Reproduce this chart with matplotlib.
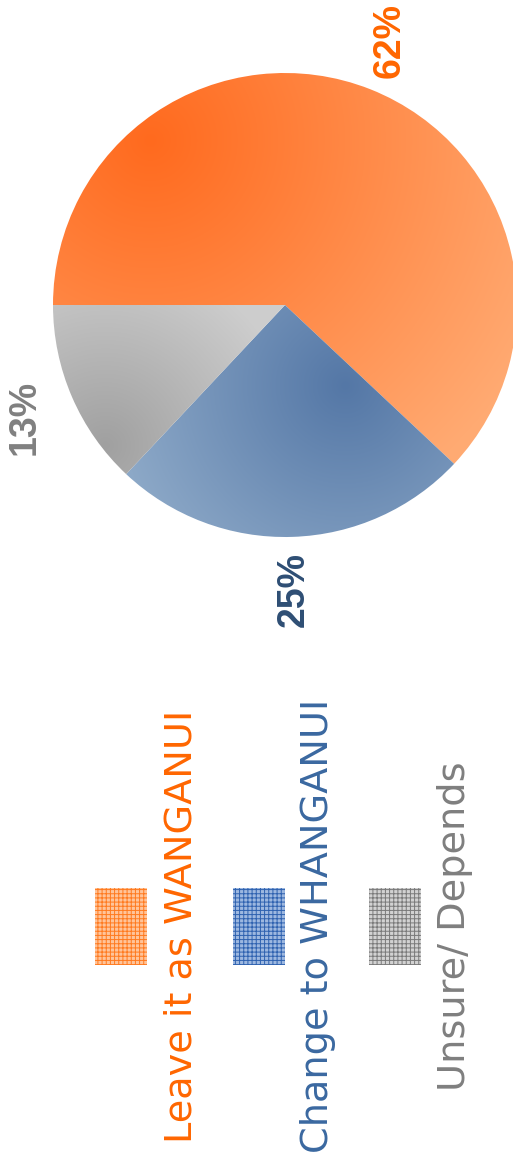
import numpy as np
import matplotlib
matplotlib.use("Agg")
import matplotlib.pyplot as plt
from matplotlib.colors import to_rgb
from matplotlib.patches import Rectangle

# data
categories = ["Leave it as WANGANUI", "Change to WHANGANUI", "Unsure/ Depends"]
shares = [62, 25, 13]
pct_labels = ["62%", "25%", "13%"]

# style
label_colors = ["#FF6600", "#2E4E74", "#808080"]
legend_text_colors = ["#FF6600", "#3A68A0", "#7F7F7F"]
patch_face = ["#FFC49A", "#9DB8E0", "#D2D2D2"]
patch_hatch = ["#FF7A1F", "#2F62B0", "#7A7A7A"]
# (dark point x, dark point y, reach, dark colour, light colour)
gradients = [
    (150, 140, 430, "#FF6A1E", "#FFAA72"),
    (345, 385, 230, "#5477A6", "#8CA8C7"),
    (105, 445, 190, "#A0A0A0", "#CDCDCD"),
]

W, H = 513, 1162
cx, cy, r = 285, 305, 232

plt.rcParams["hatch.linewidth"] = 0.7

fig = plt.figure(figsize=(W / 100, H / 100), dpi=100)
ax = fig.add_axes([0, 0, 1, 1])

wedges, _ = ax.pie(shares, startangle=180, counterclock=True, center=(cx, cy),
                   radius=r, wedgeprops=dict(linewidth=0), frame=True)
ax.set_xlim(0, W)
ax.set_ylim(H, 0)
ax.set_aspect("auto")
ax.axis("off")

yy, xx = np.mgrid[0:H, 0:W]
for w, (gx, gy, reach, c0, c1) in zip(wedges, gradients):
    t = np.clip(np.hypot(xx - gx, yy - gy) / reach, 0, 1)[..., None]
    img = (1 - t) * np.array(to_rgb(c0)) + t * np.array(to_rgb(c1))
    w.set_alpha(0)
    im = ax.imshow(img, extent=(0, W, H, 0), origin="upper", interpolation="bilinear", zorder=1)
    im.set_clip_path(w)

for w, lab, col in zip(wedges, pct_labels, label_colors):
    mid = np.deg2rad((w.theta1 + w.theta2) / 2)
    x = cx + 1.225 * r * np.cos(mid)
    y = cy + 1.225 * r * np.sin(mid)
    ax.text(x, y, lab, rotation=90, ha="center", va="center", color=col,
            fontsize=27, fontweight="bold", family="Liberation Sans", zorder=3)

# legend, rotated like the rest of the chart
leg_x = [121, 259, 395]
text_x = [181, 318, 455]
for i, name in enumerate(categories):
    ax.add_patch(Rectangle((leg_x[i] - 26, 888), 52, 77, facecolor=patch_face[i],
                           edgecolor=patch_hatch[i], hatch="++++", linewidth=0, zorder=2))
    ax.text(text_x[i], 926, name, rotation=90, ha="center", va="center",
            color=legend_text_colors[i], fontsize=27.5, family="DejaVu Sans", zorder=3)

fig.savefig("out.png", dpi=100)
